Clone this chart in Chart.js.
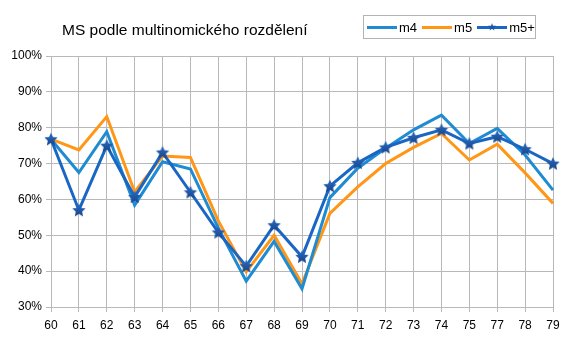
<!DOCTYPE html>
<html>
<head>
<meta charset="utf-8">
<script src="https://cdn.jsdelivr.net/npm/chart.js@4.4.1/dist/chart.umd.min.js"></script>
<style>
  body { margin: 0; background: #fff; }
  #wrap { position: relative; width: 569px; height: 343px; font-family: "Liberation Sans", Arial, sans-serif; }
  #graf { position: absolute; left: 0; top: 0; }
  #nadpis { position: absolute; left: 62px; top: 21px; font-size: 15.5px; color: #000; white-space: nowrap; }
  #legenda { position: absolute; left: 363px; top: 15px; width: 171px; height: 22px; border: 1px solid #b3b3b3;
             display: flex; align-items: center; font-size: 13px; color: #000; box-sizing: content-box; }
  #legenda .car { display: inline-block; width: 30px; height: 3px; margin-left: 5px; margin-right: 2px; position: relative; }
  #legenda .car:first-child { margin-left: 3px; }
  #legenda .car b { position: absolute; left: 11px; top: -5px; font-size: 9px; line-height: 12px; color: #1c55a4; }
</style>
</head>
<body>
<div id="wrap">
  <canvas id="graf" width="569" height="343"></canvas>
  <div id="nadpis">MS podle multinomického rozdělení</div>
  <div id="legenda">
    <span class="car" style="background:#1e8bd3"></span>m4
    <span class="car" style="background:#ff9616"></span>m5
    <span class="car" style="background:#1a66c4"><b>★</b></span>m5+
  </div>
</div>
<script>
// ročníky (bez 76)
var roky = ['60','61','62','63','64','65','66','67','68','69','70','71','72','73','74','75','77','78','79'];
// hodnoty v %
var m4     = [76.8, 67.5, 78.9, 58.4, 70.5, 68.5, 52.0, 37.2, 48.3, 35.1, 60.5, 68.7, 74.3, 79.4, 83.5, 75.6, 79.8, 72.4, 62.6];
var m5     = [76.8, 73.8, 83.1, 62.1, 72.1, 71.7, 54.0, 39.8, 50.0, 36.5, 56.1, 63.5, 70.0, 74.5, 78.4, 71.0, 75.4, 67.4, 58.9];
var m5plus = [76.8, 57.0, 75.0, 60.7, 73.1, 62.0, 50.8, 41.4, 52.8, 44.0, 63.7, 70.2, 74.5, 77.2, 79.4, 75.6, 77.5, 74.0, 70.0];
var osaY = { min: 30, max: 100, krok: 10 };

// hvězdička jako obrázek bodu
function hvezda(r) {
    var c = document.createElement('canvas');
    c.width = c.height = r * 2 + 2;
    var ctx = c.getContext('2d');
    ctx.translate(r + 1, r + 1.5);
    ctx.beginPath();
    for (var i = 0; i < 10; i++) {
        var rr = i % 2 === 0 ? r : r * 0.48;
        var a = -Math.PI / 2 + i * Math.PI / 5;
        ctx.lineTo(Math.cos(a) * rr, Math.sin(a) * rr);
    }
    ctx.closePath();
    var g = ctx.createLinearGradient(0, -r, 0, r);
    g.addColorStop(0, '#2a6cc0');
    g.addColorStop(1, '#173f85');
    ctx.fillStyle = g;
    ctx.fill();
    return c;
}

var sedaMrizka = '#b8b8b8';
var ctx = document.getElementById('graf').getContext('2d');
var graf = new Chart(ctx, {
    type: 'line',
    data: {
        labels: roky,
        datasets: [
            {
                label: 'm5+',
                data: m5plus,
                borderColor: '#1a66c4',
                borderWidth: 3,
                pointStyle: hvezda(7),
                pointRadius: 7,
                order: 0,
                clip: false
            },
            {
                label: 'm4',
                data: m4,
                borderColor: '#1e8bd3',
                borderWidth: 3,
                pointRadius: 0,
                order: 1,
                clip: false
            },
            {
                label: 'm5',
                data: m5,
                borderColor: '#ff9616',
                borderWidth: 3,
                pointRadius: 0,
                order: 2,
                clip: false
            }
        ]
    },
    options: {
        responsive: false,
        devicePixelRatio: 1,
        animation: false,
        layout: { padding: { top: 56, right: 16, left: 0, bottom: 0 } },
        elements: { line: { tension: 0 } },
        plugins: { legend: { display: false }, title: { display: false }, tooltip: { enabled: false } },
        scales: {
            x: {
                offset: false,
                grid: { color: sedaMrizka, lineWidth: 1, tickLength: 5 },
                border: { color: sedaMrizka },
                ticks: { color: '#000', font: { family: 'Liberation Sans', size: 12 }, padding: 6, maxRotation: 0, autoSkip: false },
                afterFit: function (s) { s.height = 36; }
            },
            y: {
                min: osaY.min,
                max: osaY.max,
                grid: { color: sedaMrizka, lineWidth: 1, tickLength: 5 },
                border: { color: sedaMrizka },
                ticks: {
                    stepSize: osaY.krok,
                    color: '#000',
                    font: { family: 'Liberation Sans', size: 12 },
                    padding: 4,
                    callback: function (v) { return v + '%'; }
                },
                afterFit: function (s) { s.width = 51; }
            }
        }
    }
});
</script>
</body>
</html>
